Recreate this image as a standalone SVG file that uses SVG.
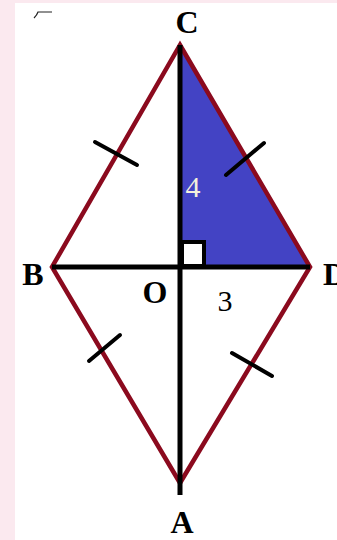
<svg xmlns="http://www.w3.org/2000/svg" width="337" height="540" viewBox="0 0 337 540">
<style>
.lbl{font-family:"Liberation Serif",serif;font-weight:bold;font-size:32px;fill:#000;text-anchor:middle}
.num{font-family:"Liberation Serif",serif;font-size:30px;text-anchor:middle}
.side{stroke:#8b0a1e;stroke-width:4.5;fill:none;stroke-linejoin:miter}
.axis{stroke:#000;stroke-width:5}
.tick{stroke:#000;stroke-width:4;stroke-linecap:round}
</style>
<rect width="337" height="540" fill="#fbe9ef"/>
<rect x="15" y="3" width="322" height="537" fill="#fff"/>
<path d="M34 18 Q37 15 38 12 L52 12" stroke="#222" stroke-width="1.2" fill="none"/>
<g id="triangle-COD">
<polygon points="180,45 180,267 310,267" fill="#4343c4"/>
</g>
<g id="right-angle">
<rect x="182" y="242" width="22" height="24" fill="#fff" stroke="#000" stroke-width="4"/>
</g>
<g id="connectors">
<polygon class="side" points="180,45 310,267 180,483 52,267"/>
<line class="axis" x1="180" y1="45" x2="180" y2="495"/>
<line class="axis" x1="52" y1="267" x2="310" y2="267"/>
<line class="tick" x1="95" y1="142" x2="137" y2="165"/>
<line class="tick" x1="226" y1="175" x2="264" y2="143"/>
<line class="tick" x1="89" y1="361" x2="120" y2="335"/>
<line class="tick" x1="232" y1="353" x2="272" y2="376"/>
</g>
<g id="node-C"><text class="lbl" x="187" y="33">C</text></g>
<g id="node-B"><text class="lbl" x="33" y="285">B</text></g>
<g id="node-O"><text class="lbl" x="155" y="303">O</text></g>
<g id="node-D"><text class="lbl" x="323" y="285" style="text-anchor:start">D</text></g>
<g id="node-A"><text class="lbl" x="182" y="533">A</text></g>
<g id="label-3"><text class="num" x="225" y="311" fill="#000">3</text></g>
<g id="label-4"><text class="num" x="193" y="197" fill="#f4f0dc">4</text></g>
</svg>
